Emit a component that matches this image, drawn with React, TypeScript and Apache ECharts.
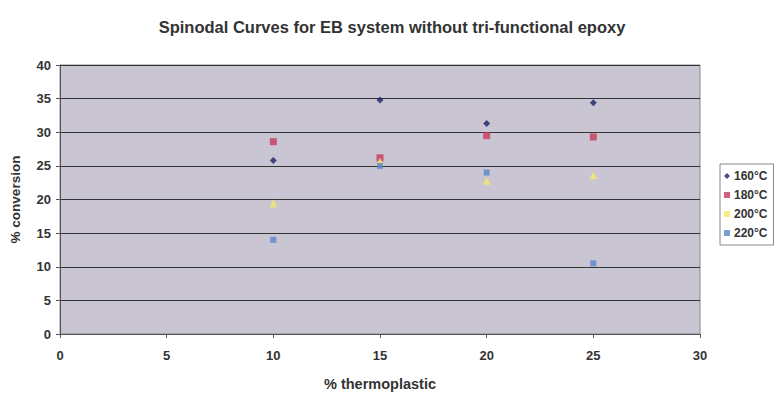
import React, { useEffect, useRef } from "react";
import * as echarts from "echarts";

const xValues = [10, 15, 20, 25];
const series160 = [25.8, 34.8, 31.3, 34.4];
const series180 = [28.6, 26.2, 29.5, 29.3];
const series200 = [19.4, 25.6, 22.8, 23.6];
const series220 = [14.0, 25.0, 24.0, 10.5];
const seriesNames = ["160°C", "180°C", "200°C", "220°C"];

const FONT = "Liberation Sans";

export default function App() {
  const ref = useRef<HTMLDivElement>(null);
  useEffect(() => {
    if (!ref.current) return;
    const chart = echarts.init(ref.current, null, { renderer: "svg" });
    const mk = (vals: number[]) => xValues.map((x, i) => [x, vals[i]]);
    const specs = [
      { name: seriesNames[0], data: series160, color: "#1c2466", symbol: "diamond", size: 7 },
      { name: seriesNames[1], data: series180, color: "#c8385c", symbol: "rect", size: 7 },
      { name: seriesNames[2], data: series200, color: "#f2ea6a", symbol: "triangle", size: 8 },
      { name: seriesNames[3], data: series220, color: "#5a86c8", symbol: "rect", size: 6 },
    ];
    chart.setOption({
      animation: false,
      backgroundColor: "#ffffff",
      title: {
        text: "Spinodal Curves for EB system without tri-functional epoxy",
        left: 387,
        textAlign: "center",
        top: 13,
        textStyle: { fontFamily: FONT, fontSize: 16.5, fontWeight: "bold", color: "#333" },
      },
      legend: {
        orient: "vertical",
        left: 720,
        top: 164,
        itemWidth: 6,
        itemHeight: 6,
        itemGap: 7,
        padding: [6, 6, 6, 4],
        backgroundColor: "#ffffff",
        borderColor: "#888",
        borderWidth: 1,
        textStyle: { fontFamily: FONT, fontSize: 12, fontWeight: "bold", color: "#333", padding: [0, 0, 0, -1] },
        data: specs.map((s) => ({ name: s.name, icon: s.symbol === "diamond" ? "diamond" : "rect" })),
      },
      grid: { left: 58, right: 74, top: 65, bottom: 54, show: true, backgroundColor: "#c9c5d2", borderColor: "#888", borderWidth: 1 },
      xAxis: {
        type: "value",
        min: 0,
        max: 30,
        interval: 5,
        name: "% thermoplastic",
        nameLocation: "middle",
        nameGap: 42,
        nameTextStyle: { fontFamily: FONT, fontSize: 14.5, fontWeight: "bold", color: "#333" },
        axisLine: { show: true, lineStyle: { color: "#555" } },
        axisTick: { show: true, inside: false, length: 4, lineStyle: { color: "#555" } },
        axisLabel: { fontFamily: FONT, fontSize: 13, fontWeight: "bold", color: "#333", margin: 15 },
        splitLine: { show: false },
      },
      yAxis: {
        type: "value",
        min: 0,
        max: 40,
        interval: 5,
        name: "% conversion",
        nameLocation: "middle",
        nameGap: 38,
        nameTextStyle: { fontFamily: FONT, fontSize: 13.5, fontWeight: "bold", color: "#333" },
        axisLine: { show: true, lineStyle: { color: "#555" } },
        axisTick: { show: true, length: 4, lineStyle: { color: "#555" } },
        axisLabel: { fontFamily: FONT, fontSize: 13, fontWeight: "bold", color: "#333", margin: 9 },
        splitLine: { show: true, lineStyle: { color: "#333", width: 1 } },
      },
      series: specs.map((s) => ({
        type: "scatter",
        name: s.name,
        data: mk(s.data),
        symbol: s.symbol,
        symbolSize: s.size,
        itemStyle: { color: s.color },
      })),
    });
    return () => chart.dispose();
  }, []);
  return <div ref={ref} style={{ width: 774, height: 396, position: "absolute", left: 0, top: 0 }} />;
}
